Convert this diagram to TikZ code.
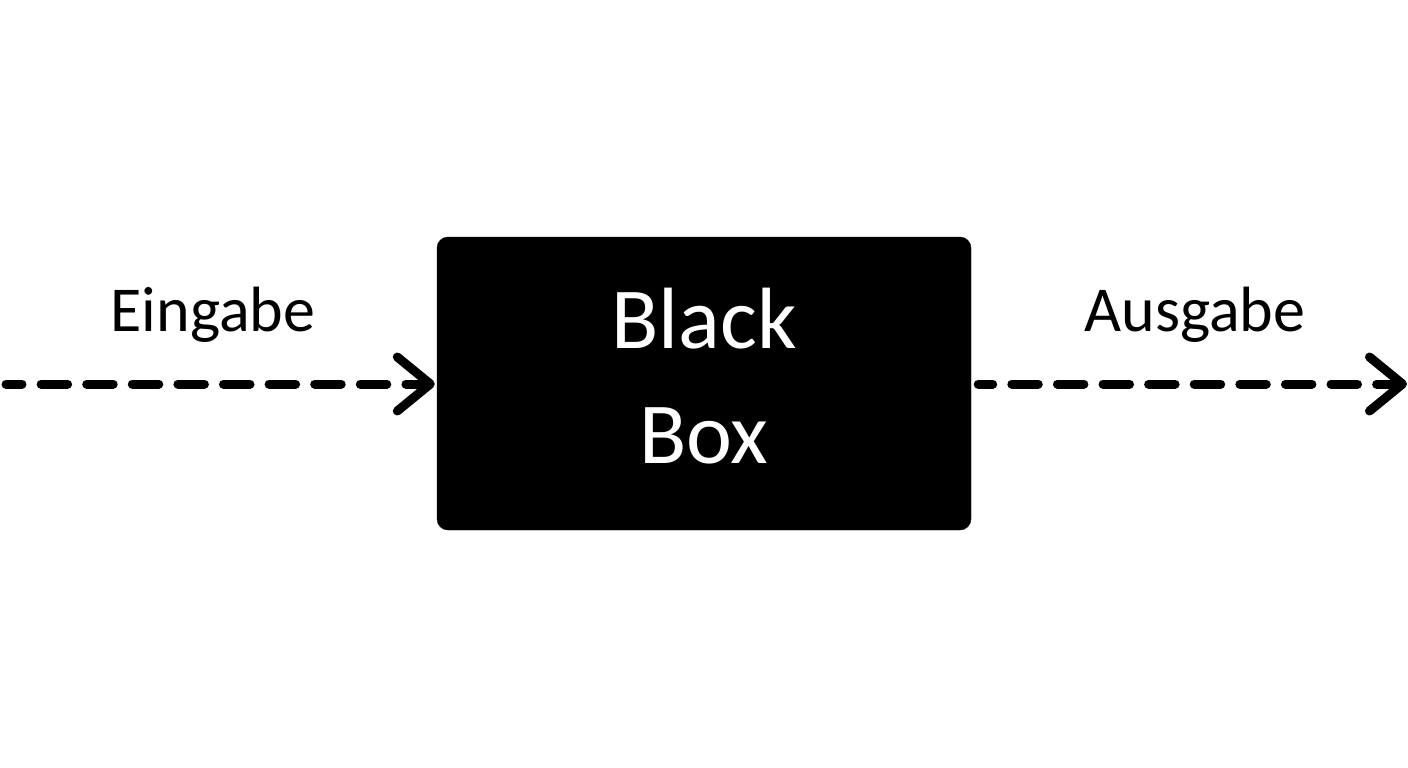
\documentclass[tikz,border=0pt]{standalone}
\usepackage{fontspec}
\setmainfont{Carlito}
\usetikzlibrary{positioning,arrows.meta}

\begin{document}
\begin{tikzpicture}[
        x=1pt,y=-1pt,
        blackbox/.style={
                rectangle,
                draw=black,
                fill=black,
                text=white,
                rounded corners=11pt,
                minimum width=534pt,
                minimum height=293pt,
                align=center,
                text depth=15pt,
                font=\fontsize{87}{115}\selectfont
            },
        flow/.style={
                line width=9pt,
                line cap=round,
                dash pattern=on 26.5pt off 19.1pt,
                -{Straight Barb[length=33pt,width=54pt,line width=9pt,round]}
            },
        flowlabel/.style={
                font=\fontsize{64}{70}\selectfont,
                inner sep=0pt,
                anchor=base
            }
    ]
    \useasboundingbox (0,0) rectangle (1408,768);
    \node[blackbox] (Box) at (704,383.5) {Black\\Box};
    \coordinate (In) at (6,384);
    \coordinate (Out) at (1407,384);
    \node[flowlabel] (Eingabe) at (213,331) {Eingabe};
    \node[flowlabel] (Ausgabe) at (1195,331) {Ausgabe};

    \draw[flow,dash phase=10.5pt,shorten >=2pt] (In) -- (Box.west |- In);
    \draw[flow,dash phase=12pt,shorten <=7pt] (Box.east |- Out) -- (Out);
\end{tikzpicture}
\end{document}
